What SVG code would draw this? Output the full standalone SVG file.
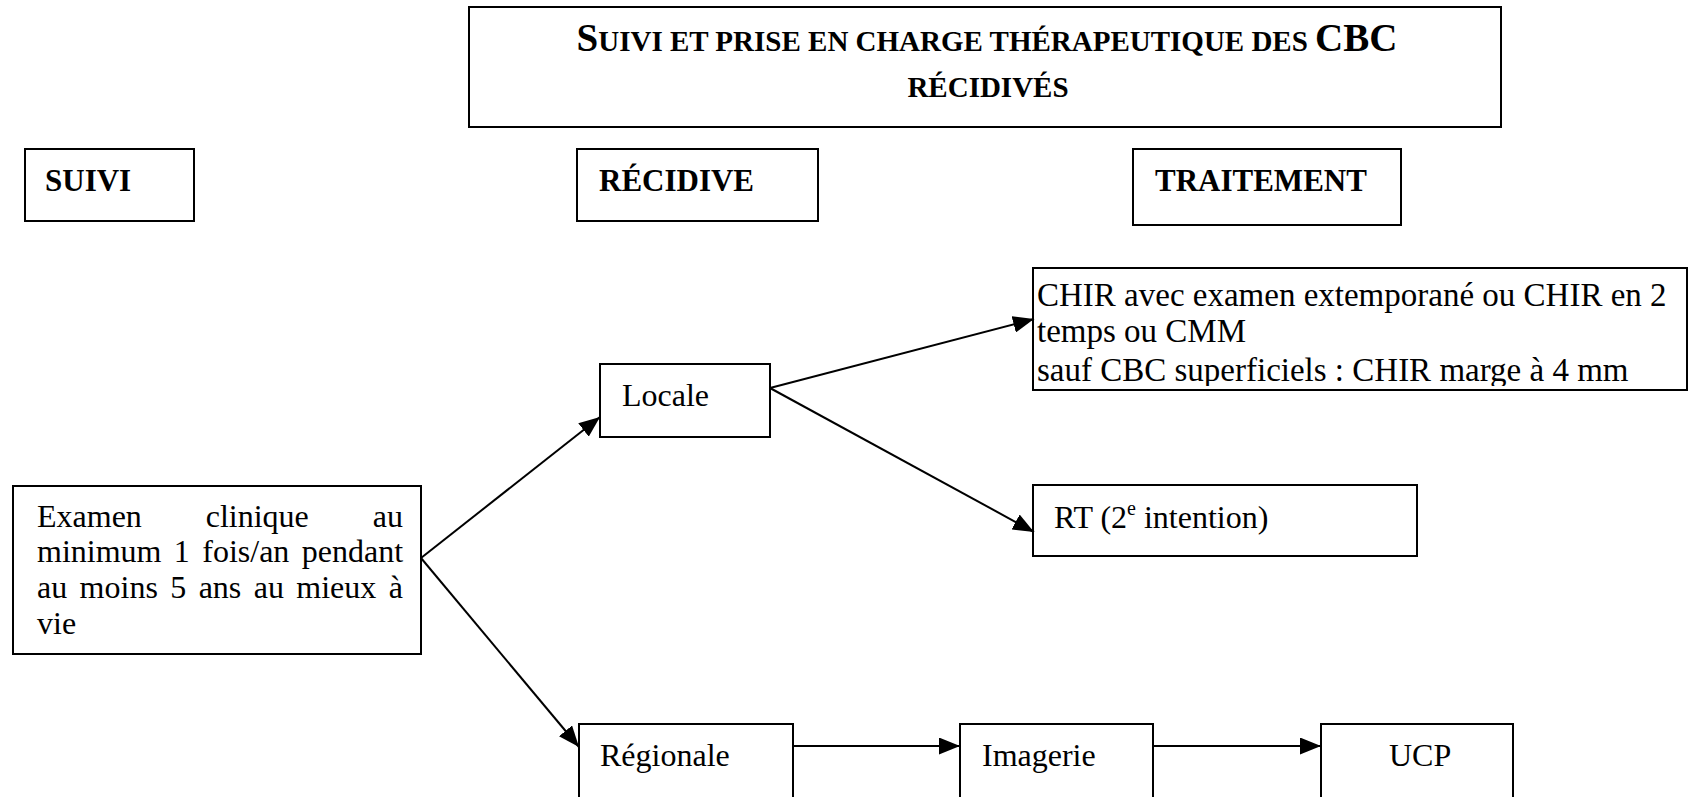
<svg xmlns="http://www.w3.org/2000/svg" width="1690" height="797" viewBox="0 0 1690 797">
<style>
.box{fill:#fff;stroke:#000;stroke-width:2}
.t{font-family:"Liberation Serif","Times New Roman",serif;fill:#000}
.r{font-size:32px}
.b{font-weight:bold}
.c{stroke:#000;stroke-width:2;fill:none;marker-end:url(#arr)}
</style>
<defs>
<marker id="arr" viewBox="0 0 21 17" refX="21" refY="8.5" markerWidth="21" markerHeight="17" markerUnits="userSpaceOnUse" orient="auto">
<path d="M0,0 L21,8.5 L0,17 z" fill="#000"/>
</marker>
<clipPath id="chirclip"><rect x="1034" y="269" width="652" height="117"/></clipPath>
</defs>
<rect width="1690" height="797" fill="#fff"/>

<g id="title">
<rect class="box" x="469" y="7" width="1032" height="120"/>
<text class="t b" x="987" y="51" text-anchor="middle"><tspan font-size="39">S</tspan><tspan font-size="29">UIVI ET PRISE EN CHARGE THÉRAPEUTIQUE DES </tspan><tspan font-size="39">CBC</tspan></text>
<text class="t b" x="988" y="97" font-size="29" text-anchor="middle">RÉCIDIVÉS</text>
</g>

<g id="suivi">
<rect class="box" x="25" y="149" width="169" height="72"/>
<text class="t b" x="45" y="191" font-size="31">SUIVI</text>
</g>

<g id="recidive">
<rect class="box" x="577" y="149" width="241" height="72"/>
<text class="t b" x="599" y="191" font-size="31">RÉCIDIVE</text>
</g>

<g id="traitement">
<rect class="box" x="1133" y="149" width="268" height="76"/>
<text class="t b" x="1155" y="191" font-size="31">TRAITEMENT</text>
</g>

<g id="examen">
<rect class="box" x="13" y="486" width="408" height="168"/>
<text class="t r" x="37" y="527" word-spacing="55.9">Examen clinique au</text>
<text class="t r" x="37" y="562" word-spacing="4.4">minimum 1 fois/an pendant</text>
<text class="t r" x="37" y="598" word-spacing="4.4">au moins 5 ans au mieux à</text>
<text class="t r" x="37" y="634">vie</text>
</g>

<g id="locale">
<rect class="box" x="600" y="364" width="170" height="73"/>
<text class="t r" x="622" y="406">Locale</text>
</g>

<g id="chir">
<rect class="box" x="1033" y="268" width="654" height="122"/>
<g clip-path="url(#chirclip)">
<text class="t" font-size="33" x="1037" y="306">CHIR avec examen extemporané ou CHIR en 2</text>
<text class="t" font-size="33" x="1037" y="342">temps ou CMM</text>
<text class="t" font-size="33" x="1037" y="381">sauf CBC superficiels : CHIR marge à 4 mm</text>
</g>
</g>

<g id="rt">
<rect class="box" x="1033" y="485" width="384" height="71"/>
<text class="t r" x="1054" y="528">RT (2<tspan font-size="20" dy="-13">e</tspan><tspan dy="13"> intention)</tspan></text>
</g>

<g id="regionale">
<rect class="box" x="579" y="724" width="214" height="80"/>
<text class="t r" x="600" y="766">Régionale</text>
</g>

<g id="imagerie">
<rect class="box" x="960" y="724" width="193" height="80"/>
<text class="t r" x="982" y="766">Imagerie</text>
</g>

<g id="ucp">
<rect class="box" x="1321" y="724" width="192" height="80"/>
<text class="t r" x="1389" y="766">UCP</text>
</g>

<g id="connectors">
<line class="c" x1="421" y1="558" x2="600" y2="417"/>
<line class="c" x1="421" y1="558" x2="579" y2="747"/>
<line class="c" x1="770" y1="388" x2="1034" y2="319"/>
<line class="c" x1="770" y1="388" x2="1034" y2="532"/>
<line class="c" x1="793" y1="746" x2="960" y2="746"/>
<line class="c" x1="1153" y1="746" x2="1321" y2="746"/>
</g>
</svg>
